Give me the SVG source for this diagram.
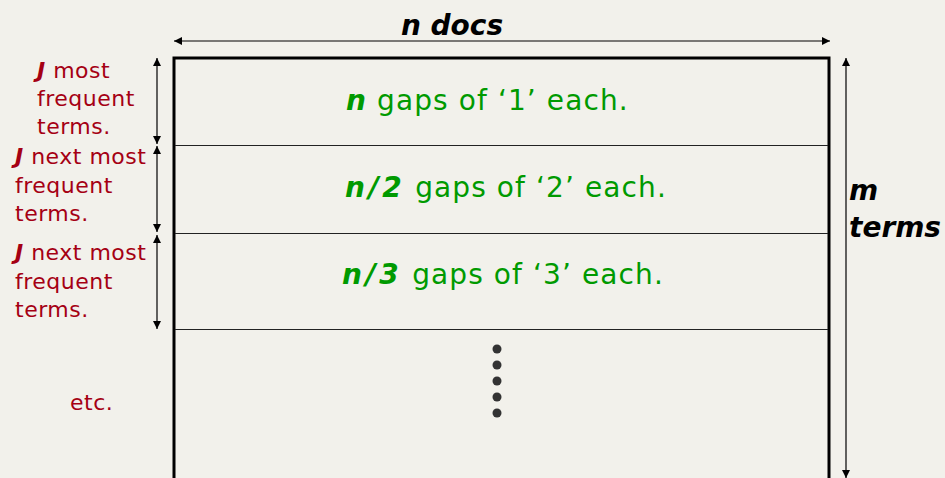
<svg xmlns="http://www.w3.org/2000/svg" width="945" height="478" viewBox="0 0 945 478">
<defs>
<marker id="ah" viewBox="0 0 10 10" refX="10" refY="5" markerWidth="8" markerHeight="8" markerUnits="userSpaceOnUse" orient="auto-start-reverse"><path d="M0,0 L10,5 L0,10 z" fill="#000"/></marker>
<style>
.red{font-family:"DejaVu Sans","Noto Sans",sans-serif;font-size:22px;fill:#a50013;letter-spacing:0.5px}
.grn{font-family:"DejaVu Sans","Noto Sans",sans-serif;font-size:28px;fill:#009a00;letter-spacing:1.1px}
.blk{font-family:"DejaVu Sans","Noto Sans",sans-serif;font-size:28px;font-weight:bold;font-style:italic;fill:#000}
.bi{font-weight:bold;font-style:italic}
.wide{letter-spacing:3.5px}
.arr{stroke:#000;stroke-width:1.2;fill:none;marker-start:url(#ah);marker-end:url(#ah)}
.sep{stroke:#222;stroke-width:1.2}
</style>
</defs>
<rect width="945" height="478" fill="#f2f1eb"/>
<g id="matrix">
<rect x="174" y="58" width="655" height="440" fill="none" stroke="#000" stroke-width="3"/>
<line class="sep" x1="175" y1="145.5" x2="828" y2="145.5"/>
<line class="sep" x1="175" y1="233.5" x2="828" y2="233.5"/>
<line class="sep" x1="175" y1="329.5" x2="828" y2="329.5"/>
</g>
<g id="connectors">
<line class="arr" x1="174" y1="41" x2="830" y2="41"/>
<line class="arr" x1="846" y1="58" x2="846" y2="478"/>
<line class="arr" x1="157" y1="58" x2="157" y2="144"/>
<line class="arr" x1="157" y1="146" x2="157" y2="232"/>
<line class="arr" x1="157" y1="235" x2="157" y2="329"/>
</g>
<g id="label-ndocs"><text class="blk" x="452" y="35" text-anchor="middle">n docs</text></g>
<g id="label-mterms"><text class="blk" x="849" y="200">m</text><text class="blk" x="849" y="237">terms</text></g>
<g id="left1"><text class="red" x="37" y="78"><tspan class="bi">J</tspan> most</text><text class="red" x="37" y="106">frequent</text><text class="red" x="37" y="134">terms.</text></g>
<g id="left2"><text class="red" x="15" y="164"><tspan class="bi">J</tspan> next most</text><text class="red" x="15" y="193">frequent</text><text class="red" x="15" y="221">terms.</text></g>
<g id="left3"><text class="red" x="15" y="260"><tspan class="bi">J</tspan> next most</text><text class="red" x="15" y="289">frequent</text><text class="red" x="15" y="317">terms.</text></g>
<g id="etc"><text class="red" x="70" y="410">etc.</text></g>
<g id="row1"><text class="grn" x="346" y="110"><tspan class="bi">n</tspan> gaps of ‘1’ each.</text></g>
<g id="row2"><text class="grn" x="345" y="197"><tspan class="bi wide">n/2</tspan> gaps of ‘2’ each.</text></g>
<g id="row3"><text class="grn" x="342" y="284"><tspan class="bi wide">n/3</tspan> gaps of ‘3’ each.</text></g>
<g id="dots" fill="#333">
<circle cx="497" cy="349" r="4.5"/><circle cx="497" cy="365" r="4.5"/><circle cx="497" cy="381" r="4.5"/><circle cx="497" cy="397" r="4.5"/><circle cx="497" cy="413" r="4.5"/>
</g>
</svg>
